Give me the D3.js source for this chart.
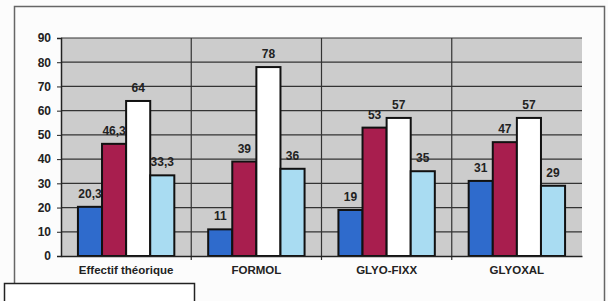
<!DOCTYPE html>
<html>
<head>
<meta charset="utf-8">
<script src="https://cdn.jsdelivr.net/npm/d3@7"></script>
<style>
  body { margin: 0; background: #fcfcfc; }
  text { font-family: "Liberation Sans", Arial, sans-serif; font-weight: bold; }
</style>
</head>
<body>
<div id="chart"></div>
<script>
// Chart data
const categories = ["Effectif théorique", "FORMOL", "GLYO-FIXX", "GLYOXAL"];
const seriesNames = ["Série 1", "Série 2", "Série 3", "Série 4"];
const serie1 = [20.3, 11, 19, 31];
const serie2 = [46.3, 39, 53, 47];
const serie3 = [64, 78, 57, 57];
const serie4 = [33.3, 36, 35, 29];
const yTicks = [0, 10, 20, 30, 40, 50, 60, 70, 80, 90];

const allSeries = [serie1, serie2, serie3, serie4];
const colors = ["#2f6bcc", "#a81e4e", "#ffffff", "#a9dcf2"];

const W = 608, H = 301;
const margin = { top: 38, right: 26, bottom: 45, left: 61 };
const width = W - margin.left - margin.right;
const height = H - margin.top - margin.bottom;

const svg = d3.select("#chart").append("svg")
    .attr("width", W)
    .attr("height", H);

// outer frame and (cut off) legend box
svg.append("path")
    .attr("d", "M14.5,283 V6.5 H604.5 V301")
    .attr("fill", "none")
    .attr("stroke", "#666")
    .attr("stroke-width", 1.5);
svg.append("rect")
    .attr("x", 4.5).attr("y", 283.5)
    .attr("width", 190).attr("height", 30)
    .attr("fill", "#fff")
    .attr("stroke", "#222")
    .attr("stroke-width", 1.5);

const g = svg.append("g")
    .attr("transform", `translate(${margin.left}, ${margin.top})`);

const x = d3.scaleBand()
    .domain(categories)
    .range([0, width]);

const xInner = d3.scaleBand()
    .domain(d3.range(4))
    .range([x.bandwidth() * 0.13, x.bandwidth() * 0.87]);

const y = d3.scaleLinear()
    .domain([0, 90])
    .range([height, 0]);

// plot background
g.append("rect")
    .attr("width", width)
    .attr("height", height)
    .attr("fill", "#cccccc");

// horizontal gridlines
g.selectAll(".grid")
    .data(yTicks.slice(1))
    .enter().append("line")
    .attr("x1", 0).attr("x2", width)
    .attr("y1", d => y(d)).attr("y2", d => y(d))
    .attr("stroke", "#333")
    .attr("stroke-width", 1.2);

// category separators
g.selectAll(".sep")
    .data(categories.slice(1))
    .enter().append("line")
    .attr("x1", d => x(d)).attr("x2", d => x(d))
    .attr("y1", 0).attr("y2", height + 4)
    .attr("stroke", "#333")
    .attr("stroke-width", 1.2);

// bars
const groups = g.selectAll(".cat")
    .data(categories)
    .enter().append("g")
    .attr("transform", d => `translate(${x(d)}, 0)`);

groups.selectAll("rect")
    .data((d, i) => allSeries.map((s, j) => ({ j: j, v: s[i] })))
    .enter().append("rect")
    .attr("x", d => xInner(d.j))
    .attr("y", d => y(d.v))
    .attr("width", xInner.bandwidth())
    .attr("height", d => y(0) - y(d.v))
    .attr("fill", d => colors[d.j])
    .attr("stroke", "#111")
    .attr("stroke-width", 2);

groups.selectAll(".lbl")
    .data((d, i) => allSeries.map((s, j) => ({ j: j, v: s[i] })))
    .enter().append("text")
    .attr("x", d => xInner(d.j) + xInner.bandwidth() / 2)
    .attr("y", d => y(d.v) - 9)
    .attr("text-anchor", "middle")
    .attr("font-size", 12)
    .attr("fill", "#222")
    .text(d => String(d.v).replace(".", ","));

// axes
const yAxis = g.append("g")
    .call(d3.axisLeft(y).tickValues(yTicks).tickSize(4).tickPadding(6));
yAxis.selectAll("text").attr("font-size", 12).attr("fill", "#222");
yAxis.selectAll("line").attr("stroke", "#222");
yAxis.select(".domain").attr("stroke", "#222").attr("stroke-width", 1.5);

const xAxis = g.append("g")
    .attr("transform", `translate(0, ${height})`)
    .call(d3.axisBottom(x).tickSize(0).tickPadding(10));
xAxis.selectAll("text").attr("font-size", 11.5).attr("fill", "#222");
xAxis.select(".domain").attr("stroke", "#222").attr("stroke-width", 1.5);
</script>
</body>
</html>
